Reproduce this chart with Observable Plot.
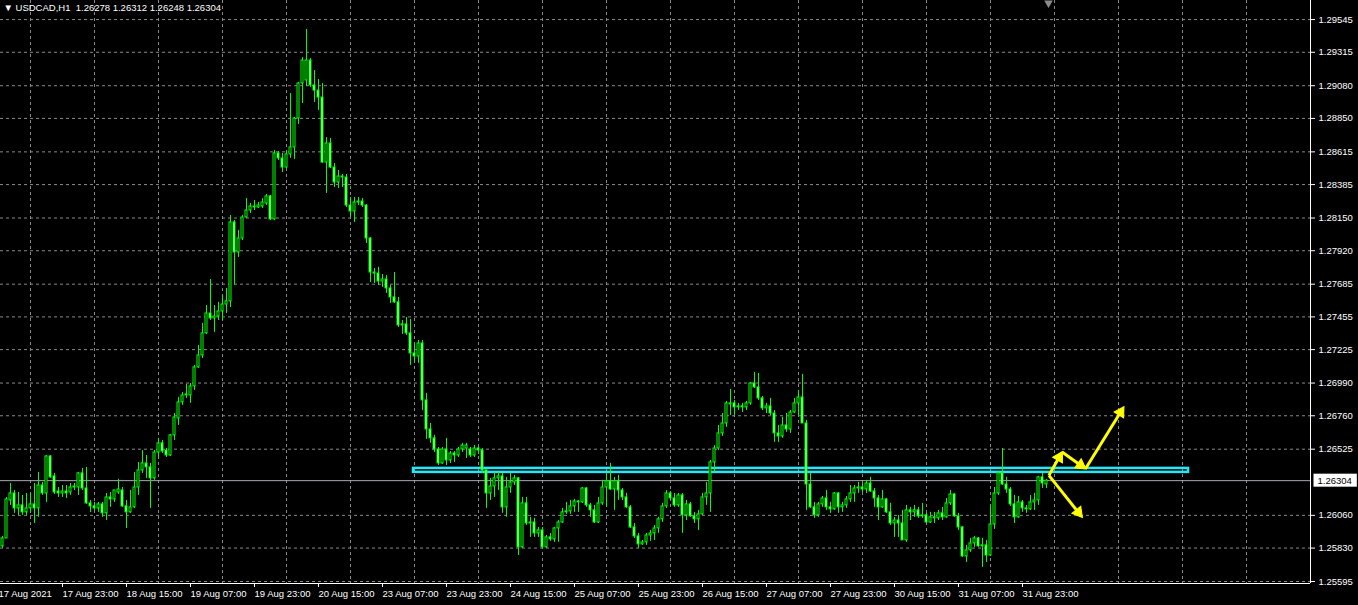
<!DOCTYPE html>
<html>
<head>
<meta charset="utf-8">
<script src="https://cdn.jsdelivr.net/npm/d3@7"></script>
<script src="https://cdn.jsdelivr.net/npm/@observablehq/plot@0.6"></script>
<style>
  html, body { margin: 0; padding: 0; background: #000; }
  #chart { width: 1358px; height: 605px; overflow: hidden; background: #000; }
  #chart svg { display: block; }
</style>
</head>
<body>
<div id="chart"></div>
<script>
// ---- data (prices in points, 1 point = 0.00001) ----
const symbolName = "USDCAD,H1";
const firstBarIndex = 1; // bar 0 = 17 Aug 2021 07:00, one bar per hour
const open5 = [
125842,125898,126165,126214,126109,126130,126081,126109,126137,126109,
126270,126214,126474,126334,126228,126214,126228,126221,126256,126256,
126355,126249,126144,126123,126109,126137,126074,126186,126172,126221,
126235,126123,126081,126116,126256,126376,126425,126397,126320,126502,
126566,126516,126481,126622,126741,126854,126903,126903,126966,127100,
127184,127339,127479,127444,127458,127493,127542,127564,128119,127908,
128006,128154,128203,128231,128224,128231,128252,128302,128140,128604,
128569,128505,128597,128646,128850,129096,129117,129257,129082,129046,
128997,128540,128674,128505,128400,128442,128435,128238,128196,128259,
128266,128238,128006,127767,127760,127704,127718,127655,127592,127557,
127395,127402,127339,127198,127177,127268,126868,126664,126601,126523,
126425,126523,126446,126495,126481,126523,126530,126523,126481,126530,
126516,126376,126214,126263,126320,126334,126116,126256,126291,126320,
125835,126144,126003,126010,125933,125954,125835,125905,125891,125968,
126010,126081,126088,126123,126158,126151,126249,126130,126095,126010,
126144,126256,126299,126242,126299,126235,126186,126116,125975,125912,
125856,125870,125919,125933,125968,126032,126123,126214,126179,126130,
126200,126060,126137,126053,126032,126067,126186,126214,126432,126530,
126636,126706,126840,126847,126819,126826,126819,126847,126987,126959,
126882,126812,126826,126776,126636,126615,126692,126664,126783,126847,
126889,126706,126277,126116,126060,126137,126179,126116,126102,126214,
126116,126130,126172,126214,126249,126256,126242,126284,126228,126179,
126116,126172,126081,126003,126024,126003,125884,126095,126081,126095,
126053,126060,126010,126046,126039,126074,126046,126144,126207,126053,
125975,125771,125814,125863,125898,125842,125849,125778,125996,126214,
126355,126277,126242,126137,126046,126151,126109,126102,126151,126165,
126327,126278];
const high5 = [
125912,126186,126284,126235,126221,126200,126214,126214,126284,126362,
126291,126481,126481,126355,126256,126270,126270,126284,126284,126362,
126390,126397,126165,126151,126151,126151,126214,126221,126235,126313,
126256,126165,126235,126362,126432,126516,126481,126425,126516,126601,
126587,126530,126629,126776,126889,126924,126980,126987,127114,127254,
127409,127535,127718,127535,127557,127606,127655,128168,128133,128063,
128168,128287,128252,128273,128259,128287,128316,128309,128625,128618,
128604,128618,129025,128857,129103,129278,129475,129271,129187,129124,
129096,128716,128709,128533,128484,128456,128456,128294,128294,128294,
128287,128245,128013,127795,127803,127753,127746,127676,127767,127592,
127430,127451,127437,127268,127289,127289,126917,126706,126622,126537,
126537,126601,126509,126509,126537,126566,126566,126537,126551,126537,
126530,126376,126320,126362,126362,126355,126327,126355,126341,126327,
126186,126186,126046,126039,125975,125975,125919,125933,125975,126024,
126109,126151,126165,126172,126165,126256,126256,126144,126130,126186,
126306,126355,126425,126327,126341,126249,126214,126130,126003,125933,
125884,125933,125954,125989,126046,126144,126235,126228,126214,126214,
126214,126165,126151,126081,126095,126214,126291,126446,126551,126692,
126776,126861,126945,126868,126847,126847,126861,126994,127065,127058,
126896,126847,126882,126797,126692,126749,126776,126797,126882,126938,
127051,126727,126355,126151,126151,126193,126235,126151,126221,126221,
126151,126193,126270,126270,126291,126284,126306,126327,126249,126200,
126235,126179,126144,126046,126060,126095,126130,126116,126130,126116,
126144,126074,126081,126081,126095,126116,126179,126235,126214,126074,
125982,125849,125898,125912,125905,125898,125884,126130,126256,126369,
126530,126327,126256,126200,126193,126165,126130,126200,126214,126334,
126355,126312];
const low5 = [
125828,125898,126130,126074,126060,126060,126060,126081,126003,126046,
126200,126151,126320,126207,126186,126186,126179,126200,126235,126200,
126235,126137,126081,126095,126081,126046,126024,126116,126151,126207,
126116,125968,126074,126109,126200,126355,126320,126109,126306,126460,
126495,126467,126474,126587,126692,126833,126882,126847,126938,127093,
127163,127332,127430,127346,127430,127430,127479,127521,127676,127873,
127992,128147,128182,128203,128217,128217,128238,128133,128133,128554,
128470,128498,128569,128562,128808,128955,129075,129068,128962,128906,
128533,128323,128498,128365,128358,128365,128224,128154,128119,128238,
128224,127971,127697,127690,127676,127662,127620,127549,127549,127381,
127332,127325,127114,127135,127128,126797,126594,126566,126502,126411,
126418,126411,126425,126432,126467,126502,126460,126467,126467,126488,
126355,126109,126165,126186,126235,126074,126046,126214,126270,125778,
125828,125989,125905,125905,125905,125828,125828,125877,125870,125870,
126003,126067,126067,126081,126081,126144,126116,126046,126003,126003,
126130,126116,126235,126095,126165,126165,126109,125968,125898,125828,
125849,125849,125877,125884,125933,126010,126109,126165,126116,126116,
125933,126024,126046,126003,125954,126060,126130,126081,126362,126516,
126615,126678,126762,126762,126797,126783,126797,126833,126952,126868,
126797,126776,126762,126573,126573,126601,126643,126636,126776,126762,
126706,126095,126109,126039,126046,126116,126095,126074,126095,126074,
126081,126109,126151,126151,126214,126221,126214,126221,126116,126024,
126109,126074,125989,125905,125905,125884,125870,126024,126046,126039,
126039,126003,126003,126003,126024,126024,126039,126130,126046,125954,
125764,125729,125800,125835,125835,125694,125729,125771,125961,126200,
126270,126214,126123,126003,126039,126081,126074,126095,126095,126130,
126249,126248];
const close5 = [
125898,126172,126214,126109,126130,126081,126109,126137,126109,126270,
126214,126474,126327,126221,126214,126228,126214,126256,126263,126355,
126249,126144,126123,126109,126137,126074,126186,126172,126235,126242,
126123,126081,126116,126256,126376,126425,126397,126320,126502,126566,
126509,126481,126622,126748,126854,126903,126910,126966,127100,127184,
127339,127479,127444,127458,127493,127542,127564,128119,127908,128006,
128154,128203,128231,128224,128238,128259,128302,128140,128604,128569,
128505,128597,128646,128850,129096,129257,129257,129082,129046,128997,
128540,128674,128505,128400,128442,128435,128238,128196,128259,128266,
128238,128006,127767,127760,127704,127718,127655,127592,127557,127395,
127402,127339,127198,127177,127268,126868,126664,126601,126523,126425,
126523,126446,126495,126481,126523,126551,126551,126481,126530,126516,
126376,126214,126263,126320,126334,126116,126256,126291,126320,125835,
126144,126003,126010,125933,125954,125835,125905,125891,125968,126010,
126081,126088,126123,126158,126151,126249,126130,126095,126010,126144,
126256,126299,126242,126299,126235,126186,126116,125975,125912,125856,
125870,125919,125933,125968,126032,126123,126214,126179,126130,126200,
126060,126137,126053,126032,126067,126186,126214,126432,126530,126636,
126706,126847,126847,126819,126826,126819,126847,126987,126959,126882,
126812,126826,126776,126636,126615,126692,126664,126783,126847,126889,
126706,126277,126116,126060,126137,126179,126116,126102,126214,126116,
126130,126172,126214,126249,126256,126242,126284,126228,126179,126116,
126172,126081,126003,126024,126003,125884,126095,126081,126095,126053,
126060,126010,126046,126039,126074,126046,126144,126207,126053,125975,
125771,125814,125863,125898,125842,125849,125778,125996,126214,126355,
126277,126242,126137,126046,126151,126109,126102,126151,126165,126327,
126284,126304];

const timeTickBars = [0,16,32,48,64,80,96,112,128,144,160,176,192,208,224,240,256];
const timeTickLabels = ["17 Aug 2021","17 Aug 23:00","18 Aug 15:00","19 Aug 07:00","19 Aug 23:00",
  "20 Aug 15:00","23 Aug 07:00","23 Aug 23:00","24 Aug 15:00","25 Aug 07:00","25 Aug 23:00",
  "26 Aug 15:00","27 Aug 07:00","27 Aug 23:00","30 Aug 15:00","31 Aug 07:00","31 Aug 23:00"];
const gridBars = [8,24,40,56,72,88,104,120,136,152,168,184,200,216,232,248,264,280,296,312];
const priceTicks = [1.29545,1.29315,1.29080,1.28850,1.28615,1.28385,1.28150,1.27920,1.27685,
  1.27455,1.27225,1.26990,1.26760,1.26525,1.26060,1.25830,1.25595];
const currentPrice = 1.26304;

// drawn objects: level rectangle and yellow arrows (bar index / price)
const levelX = [103.75, 297.5];
const levelY = [1.26362, 1.26390];
const arrowX1 = [262.6, 265.9, 271.75, 262.6];
const arrowY1 = [1.26341, 1.26505, 1.26388, 1.26341];
const arrowX2 = [265.9, 271.75, 281.3, 270.9];
const arrowY2 = [1.26505, 1.26388, 1.26821, 1.26048];
const shiftMarkerBar = [262.5];

const xDomain = [0.5, 328];
const yDomain = [1.25581, 1.29679];

// ---- build ----
const W = 1358, H = 605, mL = 0, mR = 48, mT = 0, mB = 22;
const GREEN = "#00ff00";
const BEAR_FILL = "#b8f8b8";
const GRID = "#8a8a8a";
const YELLOW = "#ffff00";
const f5 = d3.format(".5f");

const bars = open5.map((o, k) => ({
  i: firstBarIndex + k, o: o / 1e5, h: high5[k] / 1e5, l: low5[k] / 1e5, c: close5[k] / 1e5
}));
const last = bars[bars.length - 1];
const header = `\u25BC ${symbolName}  ${f5(last.o)} ${f5(last.h)} ${f5(last.l)} ${f5(last.c)}`;
const levelBox = [{x1: levelX[0], x2: levelX[1], y1: levelY[0], y2: levelY[1]}];

// arrow shafts end at the head's centre; filled triangular heads rotated along the shaft
const sx = (W - mL - mR) / (xDomain[1] - xDomain[0]);
const sy = (H - mT - mB) / (yDomain[1] - yDomain[0]);
const headBack = 6;
const arrows = arrowX1.map((x, k) => {
  const a = {x1: x, y1: arrowY1[k], x2: arrowX2[k], y2: arrowY2[k]};
  const dxp = (a.x2 - a.x1) * sx, dyp = -(a.y2 - a.y1) * sy;
  const len = Math.hypot(dxp, dyp), ux = dxp / len, uy = dyp / len;
  a.hx = a.x2 - headBack * ux / sx;
  a.hy = a.y2 + headBack * uy / sy;
  a.rot = Math.atan2(ux, -uy) * 180 / Math.PI;
  return a;
});

const plot = Plot.plot({
  width: W, height: H,
  marginLeft: mL, marginRight: mR, marginTop: mT, marginBottom: mB,
  style: {background: "#000", color: "#fff", fontFamily: "'Liberation Sans', Arial, sans-serif", fontSize: "9.5px"},
  x: {type: "linear", domain: xDomain, axis: null},
  y: {type: "linear", domain: yDomain, axis: null},
  marks: [
    Plot.ruleY(priceTicks, {stroke: GRID, strokeDasharray: "3,3"}),
    Plot.ruleX(gridBars, {stroke: GRID, strokeDasharray: "3,3"}),
    Plot.ruleY([currentPrice], {stroke: "#a8a8b0"}),
    Plot.rect(levelBox, {x1: "x1", x2: "x2", y1: "y1", y2: "y2", fill: "none", stroke: "#22e8f8", strokeWidth: 2.5}),
    Plot.ruleX(bars, {x: "i", y1: "l", y2: "h", stroke: GREEN}),
    Plot.rect(bars.filter(d => d.c >= d.o), {x1: d => d.i - 0.25, x2: d => d.i + 0.25, y1: "o", y2: "c", fill: "#000", stroke: GREEN}),
    Plot.rect(bars.filter(d => d.c < d.o), {x1: d => d.i - 0.25, x2: d => d.i + 0.25, y1: "o", y2: "c", fill: BEAR_FILL, stroke: GREEN}),
    Plot.link(arrows, {x1: "x1", y1: "y1", x2: "hx", y2: "hy", stroke: YELLOW, strokeWidth: 3}),
    Plot.dot(arrows, {x: "hx", y: "hy", rotate: "rot", symbol: "triangle", r: 4.2, fill: YELLOW, stroke: YELLOW, strokeWidth: 1}),
    Plot.ruleX([xDomain[1]], {stroke: "#fff"}),
    Plot.ruleY([yDomain[0]], {stroke: "#fff"}),
    Plot.axisY({anchor: "right", ticks: priceTicks, tickFormat: f5, tickSize: 4, tickPadding: 4, label: null}),
    Plot.axisX({anchor: "bottom", ticks: timeTickBars, tickFormat: d => timeTickLabels[timeTickBars.indexOf(d)],
      textAnchor: "start", tickSize: 4, tickPadding: 3, label: null}),
    Plot.text([currentPrice], {y: d => d, frameAnchor: "right", dx: 7, textAnchor: "start", fill: "#000",
      text: d => f5(d)}),
    Plot.text([header], {frameAnchor: "top-left", dx: 3, dy: 4, textAnchor: "start", lineAnchor: "top", fill: "#fff"}),
    Plot.dot(shiftMarkerBar, {x: d => d, frameAnchor: "top", dy: 2.5, symbol: "triangle", rotate: 180, r: 3.2, fill: "#8c8c8c"})
  ]
});

document.getElementById("chart").append(plot);

// white box behind the current-price label
const priceText = [...plot.querySelectorAll("text")].find(t => t.textContent === f5(currentPrice));
if (priceText) {
  const bb = priceText.getBBox();
  const r = document.createElementNS("http://www.w3.org/2000/svg", "rect");
  r.setAttribute("x", bb.x - 4);
  r.setAttribute("y", bb.y - 1);
  r.setAttribute("width", bb.width + 9);
  r.setAttribute("height", bb.height + 2);
  r.setAttribute("fill", "#fff");
  if (priceText.getAttribute("transform")) r.setAttribute("transform", priceText.getAttribute("transform"));
  priceText.parentNode.insertBefore(r, priceText);
}
</script>
</body>
</html>
